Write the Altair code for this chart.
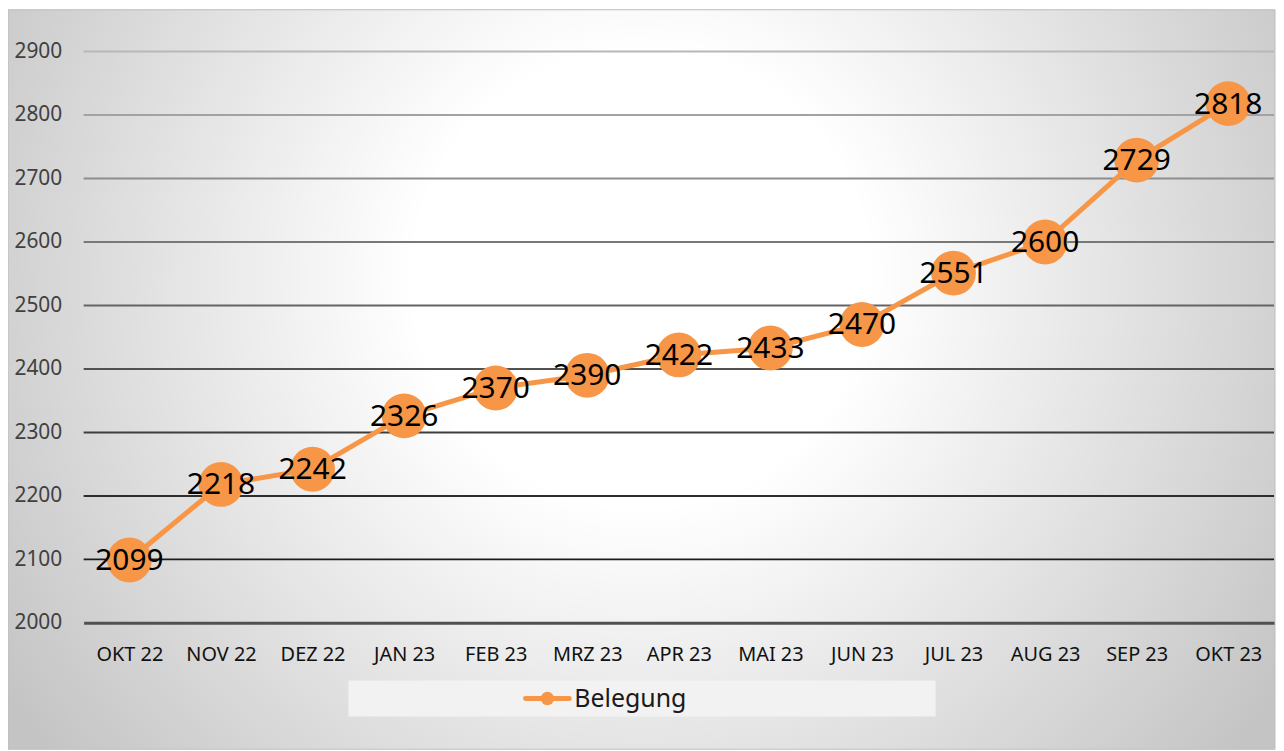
import altair as alt
import pandas as pd

months = ["OKT 22", "NOV 22", "DEZ 22", "JAN 23", "FEB 23", "MRZ 23", "APR 23",
          "MAI 23", "JUN 23", "JUL 23", "AUG 23", "SEP 23", "OKT 23"]
belegung = [2099, 2218, 2242, 2326, 2370, 2390, 2422, 2433, 2470, 2551, 2600, 2729, 2818]
grid_values = [2100, 2200, 2300, 2400, 2500, 2600, 2700, 2800, 2900]
y_ticks = [2000, 2100, 2200, 2300, 2400, 2500, 2600, 2700, 2800, 2900]
series_name = "Belegung"

ORANGE = "#F79646"
FONT = "Noto Sans"
W, H = 1196, 574

df = pd.DataFrame({"Monat": months, "Belegung": belegung})
grid_df = pd.DataFrame({"v": grid_values})
one = pd.DataFrame({"label": [series_name]})

x_enc = alt.X("Monat:N", sort=months, scale=alt.Scale(type="point", padding=0.5),
              axis=alt.Axis(title=None, labelAngle=0, labelFontSize=20, labelColor="#111111",
                            labelFont=FONT, labelPadding=22, ticks=False, zindex=1,
                            domain=True, domainColor="#505050", domainWidth=3, grid=False))
y_scale = alt.Scale(domain=[2000, 2900], nice=False, zero=False)

background = alt.Chart(one).mark_rect(
    color=alt.Gradient(
        gradient="radial",
        stops=[alt.GradientStop(color="#ffffff", offset=0),
               alt.GradientStop(color="#ffffff", offset=0.3),
               alt.GradientStop(color="#c4c4c4", offset=1)],
        x1=0.5, y1=0.42, r1=0, x2=0.5, y2=0.42, r2=0.6),
    stroke="#bdbdbd", strokeWidth=1,
).encode(x=alt.value(-76), x2=alt.value(W + 1), y=alt.value(-42), y2=alt.value(H + 127))

grid = alt.Chart(grid_df).mark_rule(strokeWidth=2).encode(
    y=alt.Y("v:Q", scale=y_scale,
            axis=alt.Axis(title=None, values=y_ticks, format="d", labelFontSize=21,
                          labelColor="#404040", labelFont=FONT, labelPadding=22, ticks=False,
                          domain=False, grid=False, zindex=1)),
    x=alt.value(0), x2=alt.value(W),
    color=alt.Color("v:Q", scale=alt.Scale(domain=[2100, 2900], range=["#1c1c1c", "#b8b8b8"]),
                    legend=None),
)

base = alt.Chart(df).encode(x=x_enc, y=alt.Y("Belegung:Q", scale=y_scale))
line = base.mark_line(color=ORANGE, strokeWidth=5)
points = base.mark_circle(color=ORANGE, opacity=1, size=2025)
labels = base.mark_text(fontSize=30, font=FONT, color="#000000", baseline="middle",
                        align="center", dy=1).encode(text="Belegung:Q")

# legend
leg_box = alt.Chart(one).mark_rect(color="#f2f2f2").encode(
    x=alt.value(266), x2=alt.value(856), y=alt.value(632), y2=alt.value(668))
leg_line = alt.Chart(one).mark_rule(color=ORANGE, strokeWidth=5, strokeCap="round").encode(
    x=alt.value(444), x2=alt.value(488), y=alt.value(650))
leg_dot = alt.Chart(one).mark_circle(color=ORANGE, opacity=1, size=180).encode(
    x=alt.value(466), y=alt.value(650))
leg_text = alt.Chart(one).mark_text(fontSize=25, font=FONT, color="#1a1a1a", align="left",
                                    baseline="middle").encode(
    x=alt.value(493), y=alt.value(651), text="label:N")

chart = alt.layer(background, grid, line, points, labels, leg_box, leg_line, leg_dot, leg_text
                  ).resolve_scale(color="independent").properties(
    width=W, height=H,
    autosize=alt.AutoSizeParams(type="none"),
    padding={"left": 76, "top": 42, "right": 2, "bottom": 127},
    background="white",
).configure_view(stroke=None)

chart.save("out.html", embed_options={"renderer": "svg", "actions": False})
